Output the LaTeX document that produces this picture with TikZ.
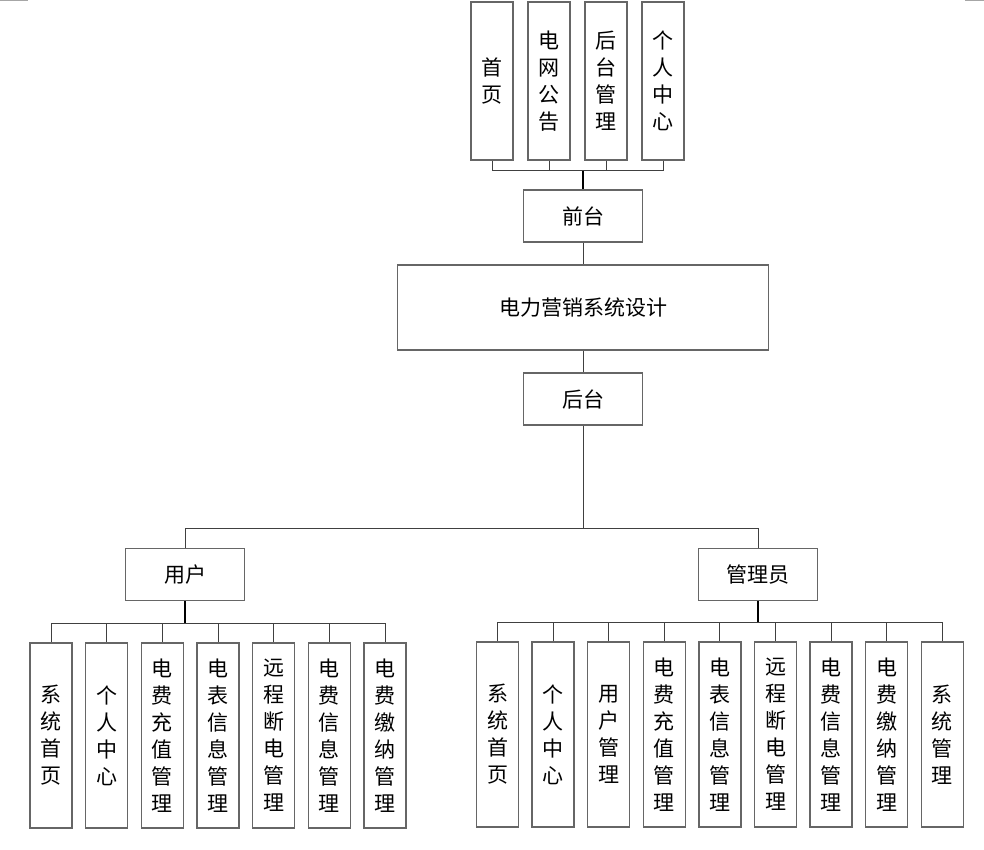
\documentclass[tikz,border=0pt]{standalone}
\usepackage{fontspec}
\setmainfont{Noto Sans CJK SC}
\usetikzlibrary{positioning}

\tikzset{
  box/.style={draw=black!60, line width=1.3pt, inner sep=0pt,
    minimum width=119pt, minimum height=52pt,
    font=\fontsize{21}{27}\selectfont},
  vbox/.style={box, minimum width=42pt, text width=22pt, align=center},
  link/.style={draw=black!75, line width=1pt},
  trunk/.style={draw=black, line width=2pt}
}

\begin{document}
\begin{tikzpicture}[x=1pt,y=-1pt]
\useasboundingbox (0,0) rectangle (984,850);
% corner marks
\draw[black!35, line width=1.5pt] (0,0.75) -- (28,0.75);
\draw[black!35, line width=1.5pt] (965,0.75) -- (984,0.75);

% front end
\foreach [count=\i] \t in {首\\页, 电\\网\\公\\告, 后\\台\\管\\理, 个\\人\\中\\心}
{
\node[vbox, minimum height=158pt] (top\i) at ({492+57*(\i-1)},81) {\t};
}
\node[box] (qt) at (583,216) {前台};
\coordinate (qtbus) at (583,171);
\foreach \i in {1,...,4}
  \draw[link] (top\i.south) |- (qtbus);
\draw[trunk] (qtbus) -- (qt.north);

% system
\node[box, minimum width=371pt, minimum height=85pt] (main) at (583,307.5) {电力营销系统设计};
\node[box] (ht) at (583,399) {后台};
\draw[link] (qt) -- (main);
\draw[link] (main) -- (ht);

% back end
\node[box] (yh) at (185,574.5) {用户};
\node[box] (gly) at (758,574.5) {管理员};
\coordinate (htbus) at (583,528);
\draw[link] (ht.south) -- (htbus);
\draw[link] (htbus) -| (yh.north);
\draw[link] (htbus) -| (gly.north);

% user modules
\coordinate (yhbus) at (185,623);
\foreach [count=\i] \t in {系\\统\\首\\页, 个\\人\\中\\心, 电\\费\\充\\值\\管\\理,
  电\\表\\信\\息\\管\\理, 远\\程\\断\\电\\管\\理, 电\\费\\信\\息\\管\\理, 电\\费\\缴\\纳\\管\\理}
{
\node[vbox, minimum height=185pt] (yc\i) at ({51+55.67*(\i-1)},735.5) {\t};
\draw[link] (yhbus) -| (yc\i.north);
}
\draw[trunk] (yh.south) -- (yhbus);

% admin modules
\coordinate (glybus) at (758,622);
\foreach [count=\i] \t in {系\\统\\首\\页, 个\\人\\中\\心, 用\\户\\管\\理, 电\\费\\充\\值\\管\\理,
  电\\表\\信\\息\\管\\理, 远\\程\\断\\电\\管\\理, 电\\费\\信\\息\\管\\理, 电\\费\\缴\\纳\\管\\理, 系\\统\\管\\理}
{
\node[vbox, minimum height=185pt] (gc\i) at ({497.5+55.6*(\i-1)},734.5) {\t};
\draw[link] (glybus) -| (gc\i.north);
}
\draw[trunk] (gly.south) -- (glybus);
\end{tikzpicture}
\end{document}
